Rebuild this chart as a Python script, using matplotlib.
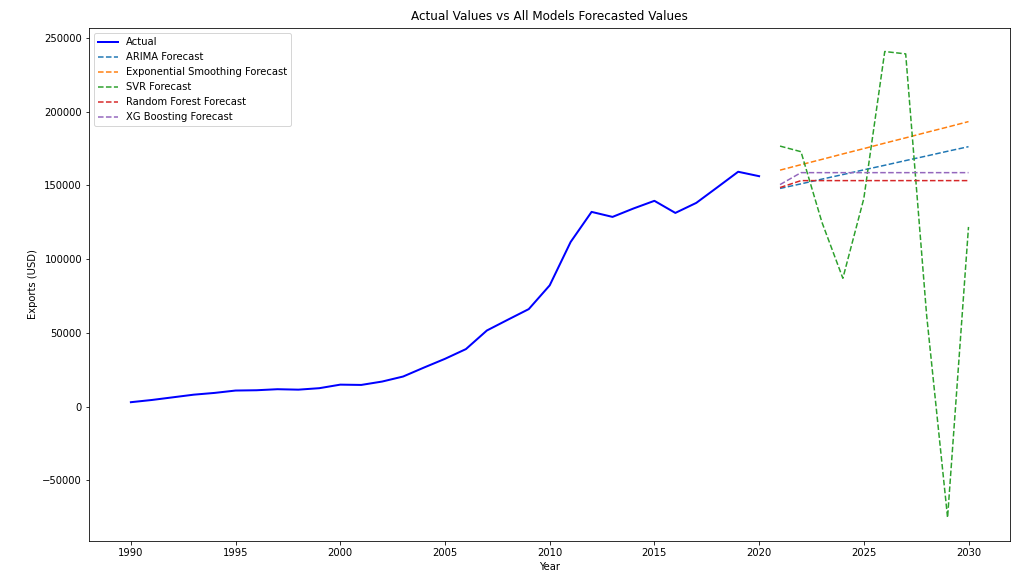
import numpy as np
import matplotlib
matplotlib.use('Agg')
import matplotlib.pyplot as plt

# historical exports
years = list(range(1990, 2021))
actual = [3000, 4500, 6300, 8100, 9300, 10900, 11100, 11800, 11500, 12500,
          14900, 14700, 17000, 20400, 26500, 32400, 39000, 51600, 58900, 66100,
          82200, 111600, 132000, 128600, 134300, 139500, 131300, 138100, 148600,
          159200, 156200]

# forecast horizon
future_years = list(range(2021, 2031))
arima = [147900, 151000, 154200, 157300, 160500, 163600, 166800, 169900, 173100, 176200]
exp_smooth = [160300, 164000, 167600, 171300, 174900, 178600, 182200, 185900, 189500, 193200]
svr = [176600, 172800, 125000, 87000, 141000, 240700, 239100, 62000, -75200, 121800]
random_forest = [148500, 153200, 153200, 153200, 153200, 153200, 153200, 153200, 153200, 153200]
xg_boost = [150500, 158600, 158600, 158600, 158600, 158600, 158600, 158600, 158600, 158600]

fig = plt.figure(figsize=(1011.4 / 72, 8), dpi=72)
ax = fig.add_axes([0.088, 0.061, 0.911, 0.890])

ax.plot(years, actual, color='blue', linewidth=2, label='Actual')
ax.plot(future_years, arima, linestyle='--', label='ARIMA Forecast')
ax.plot(future_years, exp_smooth, linestyle='--', label='Exponential Smoothing Forecast')
ax.plot(future_years, svr, linestyle='--', label='SVR Forecast')
ax.plot(future_years, random_forest, linestyle='--', label='Random Forest Forecast')
ax.plot(future_years, xg_boost, linestyle='--', label='XG Boosting Forecast')

ax.set_title('Actual Values vs All Models Forecasted Values', pad=8)
ax.set_xlabel('Year')
ax.set_ylabel('Exports (USD)')
ax.legend(loc='upper left')

fig.savefig('out.png', dpi=72)
